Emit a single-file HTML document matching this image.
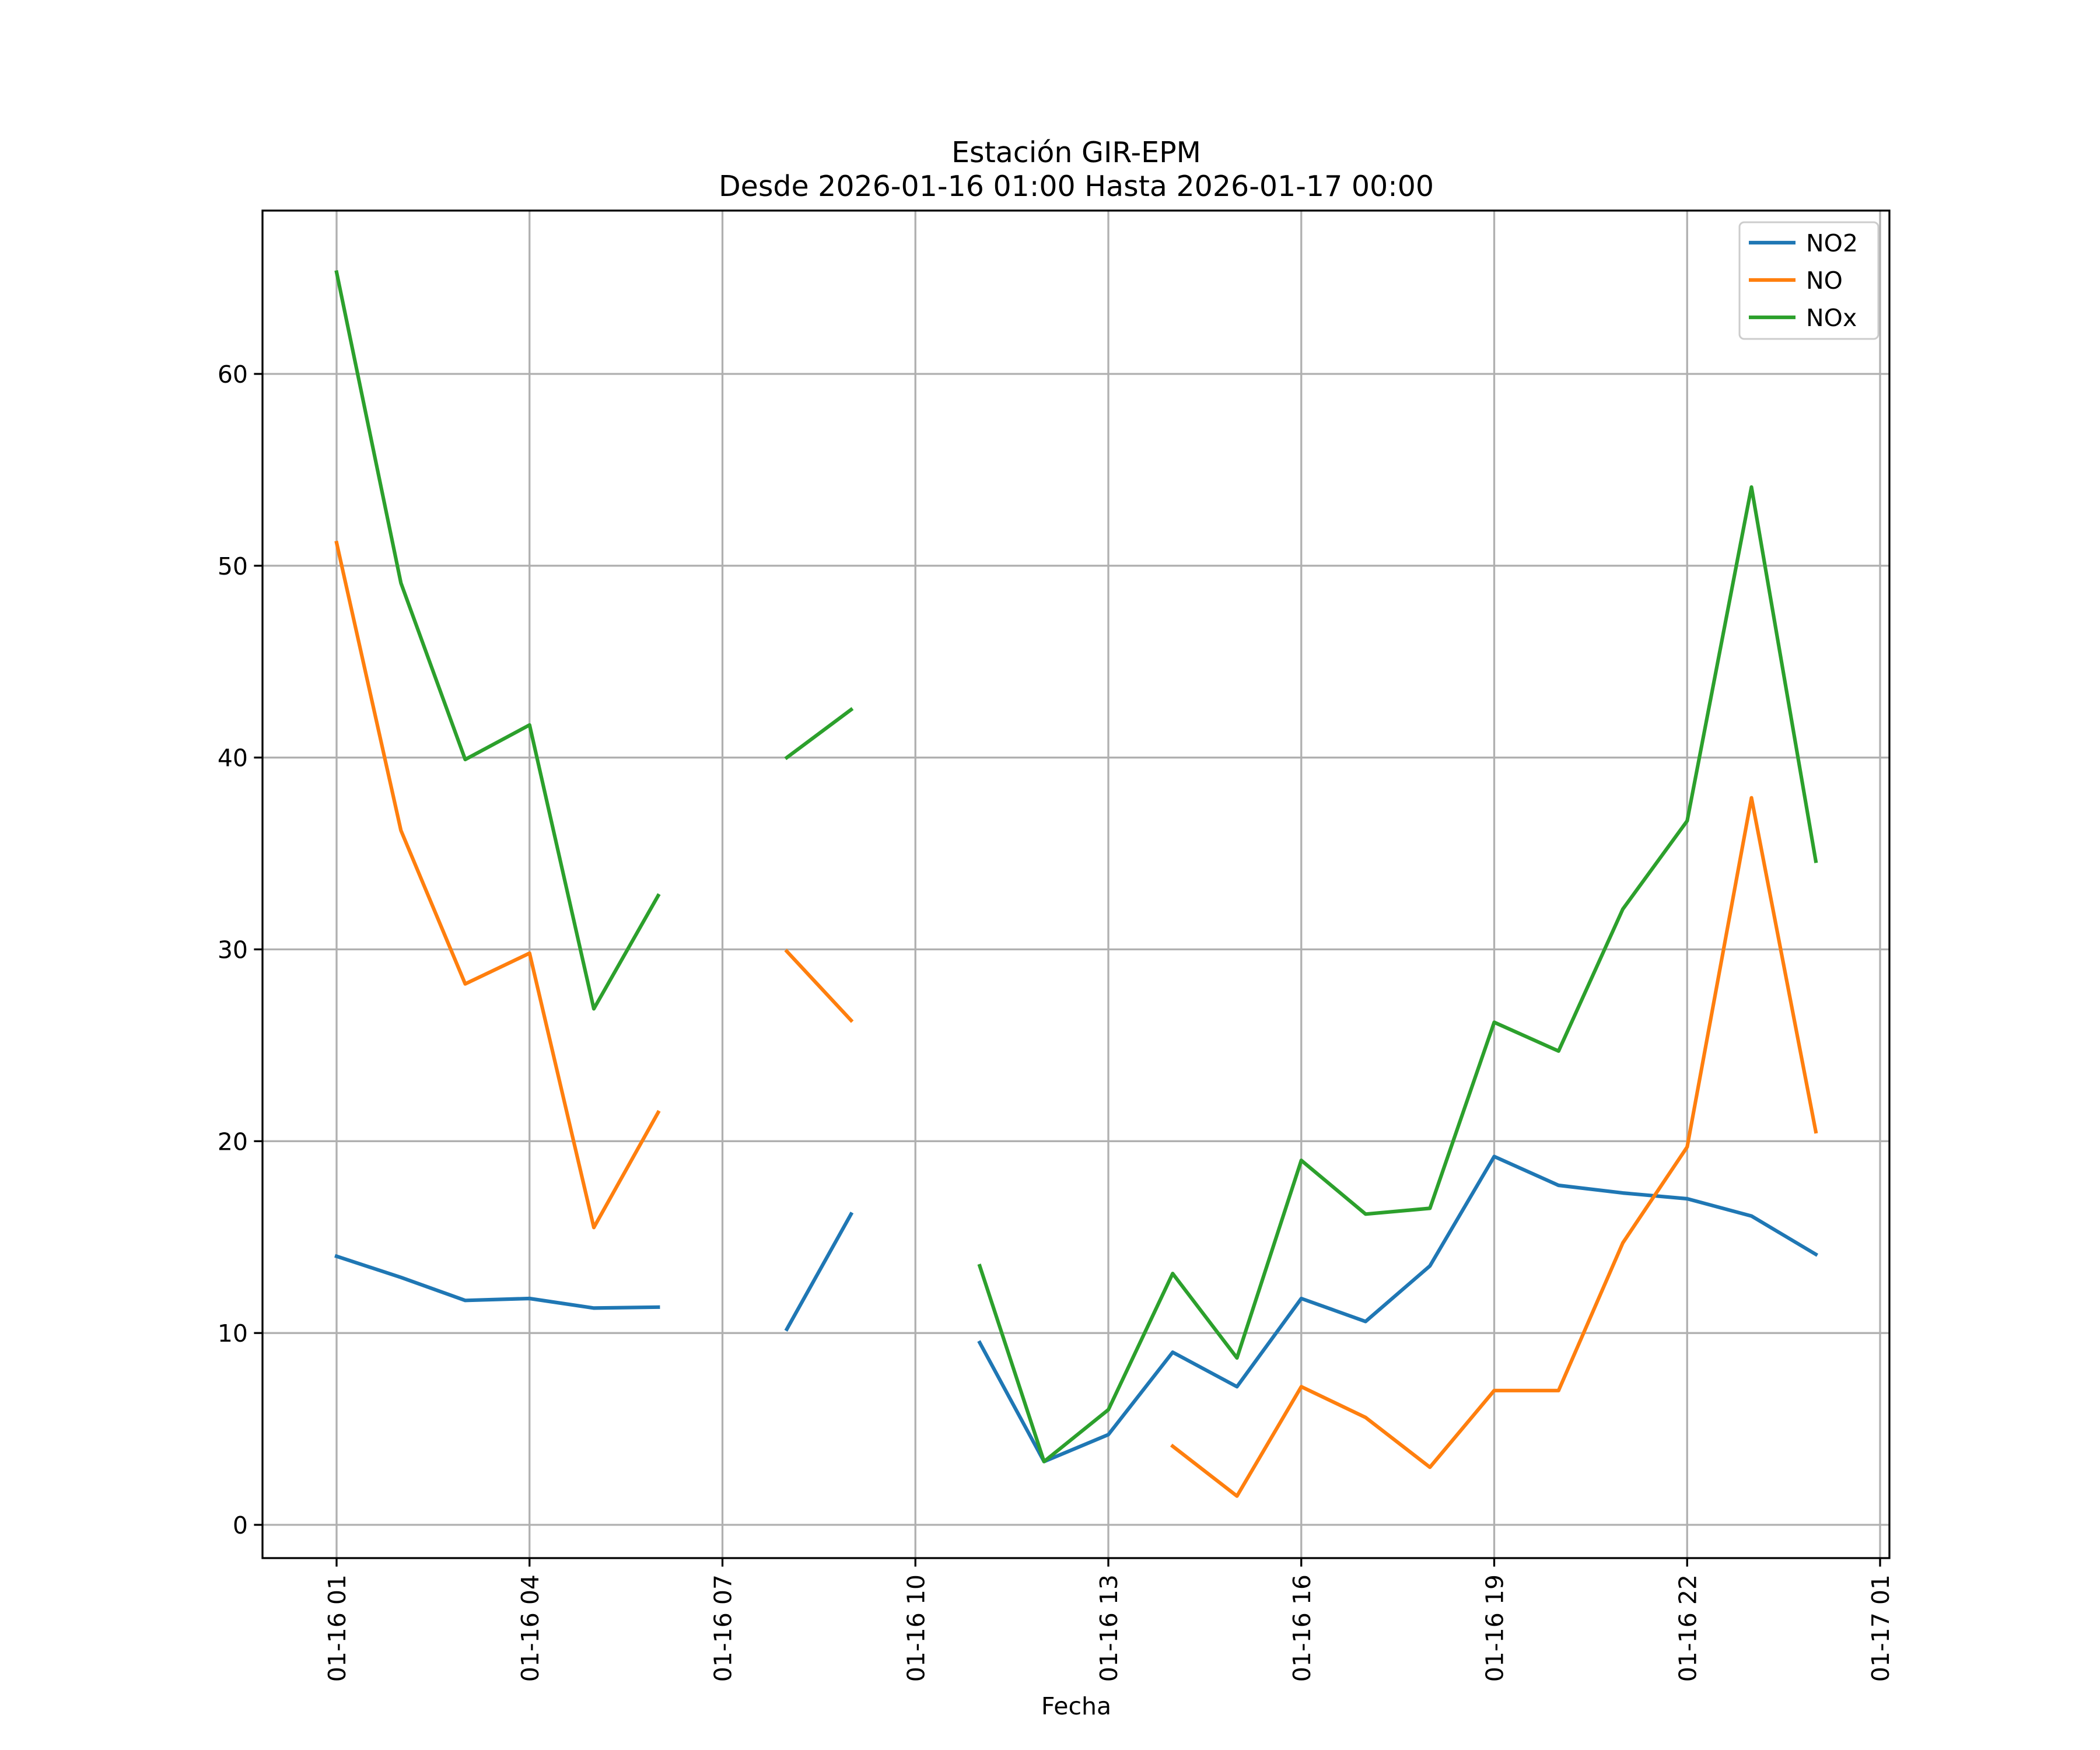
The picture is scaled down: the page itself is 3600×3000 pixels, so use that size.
<!DOCTYPE html>
<html><head><meta charset="utf-8"><style>
html,body{margin:0;padding:0;background:#fff;}
svg{display:block;font-family:"DejaVu Sans","Liberation Sans",sans-serif;}
</style></head><body>
<svg id="chart" width="3600" height="3000" viewBox="0 0 3600 3000" xmlns="http://www.w3.org/2000/svg">
<rect width="3600" height="3000" fill="#fff"/>
<g id="grid"></g>
<g id="series"></g>
<rect x="450" y="361" width="2789" height="2310" fill="none" stroke="#000" stroke-width="3.3"/>
<g id="axes"></g>
<text x="1845" y="278" font-size="49" text-anchor="middle">Estación GIR-EPM</text>
<text x="1845" y="336" font-size="49" text-anchor="middle">Desde 2026-01-16 01:00 Hasta 2026-01-17 00:00</text>
<text x="1845" y="2939" font-size="41" text-anchor="middle">Fecha</text>
<g id="legend">
<rect x="2982" y="381" width="238" height="200" rx="8" fill="#fff" fill-opacity="0.8" stroke="#ccc" stroke-width="3"/>
</g>
</svg>
<script>
const hours = [0,1,2,3,4,5,6,7,8,9,10,11,12,13,14,15,16,17,18,19,20,21,22,23];
const no2 = [14.0,12.9,11.7,11.8,11.3,11.35,null,10.2,16.2,null,9.5,3.3,4.7,9.0,7.2,11.8,10.6,13.5,19.2,17.7,17.3,17.0,16.1,14.1];
const no = [51.2,36.2,28.2,29.8,15.5,21.5,null,29.9,26.3,null,null,null,null,4.1,1.5,7.2,5.6,3.0,7.0,7.0,14.7,19.7,37.9,20.5];
const nox = [65.3,49.1,39.9,41.7,26.9,32.8,null,40.0,42.5,null,13.5,3.3,6.0,13.1,8.7,19.0,16.2,16.5,26.2,24.7,32.1,36.7,54.1,34.6];
const yTicks = [0,10,20,30,40,50,60];
const xTickHours = [0,3,6,9,12,15,18,21,24];
const xTickLabels = ["01-16 01","01-16 04","01-16 07","01-16 10","01-16 13","01-16 16","01-16 19","01-16 22","01-17 01"];
const seriesNames = ["NO2","NO","NOx"];
const seriesColors = ["#1f77b4","#ff7f0e","#2ca02c"];

const NS="http://www.w3.org/2000/svg";
const L=450,R=3239,T=361,B=2671;
const x = h => 577 + h*(3223-577)/24;
const y = v => 2614 - v*(2614-641)/60;
function mk(tag, attrs, parent){const e=document.createElementNS(NS,tag);for(const k in attrs)e.setAttribute(k,attrs[k]);parent.appendChild(e);return e;}
const grid=document.getElementById('grid'), axes=document.getElementById('axes'), ser=document.getElementById('series'), leg=document.getElementById('legend');
yTicks.forEach(v=>{
  const g=mk('line',{x1:L,x2:R,y1:y(v),y2:y(v),stroke:'#b0b0b0','stroke-width':3.3},grid);
  
  
  const t=mk('line',{x1:L-14.6,x2:L,y1:y(v),y2:y(v),stroke:'#000','stroke-width':3.3},axes);
  
  
  const tx=mk('text',{x:L-25,y:y(v)+15,'font-size':41,'text-anchor':'end'},axes);
  tx.textContent=v;
  
  
});
xTickHours.forEach((h,i)=>{
  const g=mk('line',{x1:x(h),x2:x(h),y1:T,y2:B,stroke:'#b0b0b0','stroke-width':3.3},grid);
  
  
  const t=mk('line',{x1:x(h),x2:x(h),y1:B,y2:B+14.6,stroke:'#000','stroke-width':3.3},axes);
  
  
  const tx=mk('text',{x:0,y:0,'font-size':41,'text-anchor':'end',transform:`translate(${x(h)+15},${B+28}) rotate(-90)`},axes);
  tx.textContent=xTickLabels[i];
  
  
});
[no2,no,nox].forEach((vals,si)=>{
  let segs=[],cur=[];
  vals.forEach((v,i)=>{ if(v===null){ if(cur.length)segs.push(cur); cur=[]; } else cur.push([x(hours[i]),y(v)]); });
  if(cur.length)segs.push(cur);
  const d=segs.filter(s=>s.length>1).map(s=>'M'+s.map(p=>p[0].toFixed(1)+','+p[1].toFixed(1)).join('L')).join('');
  const p=mk('path',{d:d,fill:'none',stroke:seriesColors[si],'stroke-width':6.2,'stroke-linejoin':'round','stroke-linecap':'square'},ser);
  
  
  const ly=416+si*64;
  const ll=mk('line',{x1:2998,x2:3078,y1:ly,y2:ly,stroke:seriesColors[si],'stroke-width':6.2},leg);
  
  
  const lt=mk('text',{x:3096,y:ly+15,'font-size':41},leg);
  lt.textContent=seriesNames[si];
  
  
});
</script>
</body></html>
